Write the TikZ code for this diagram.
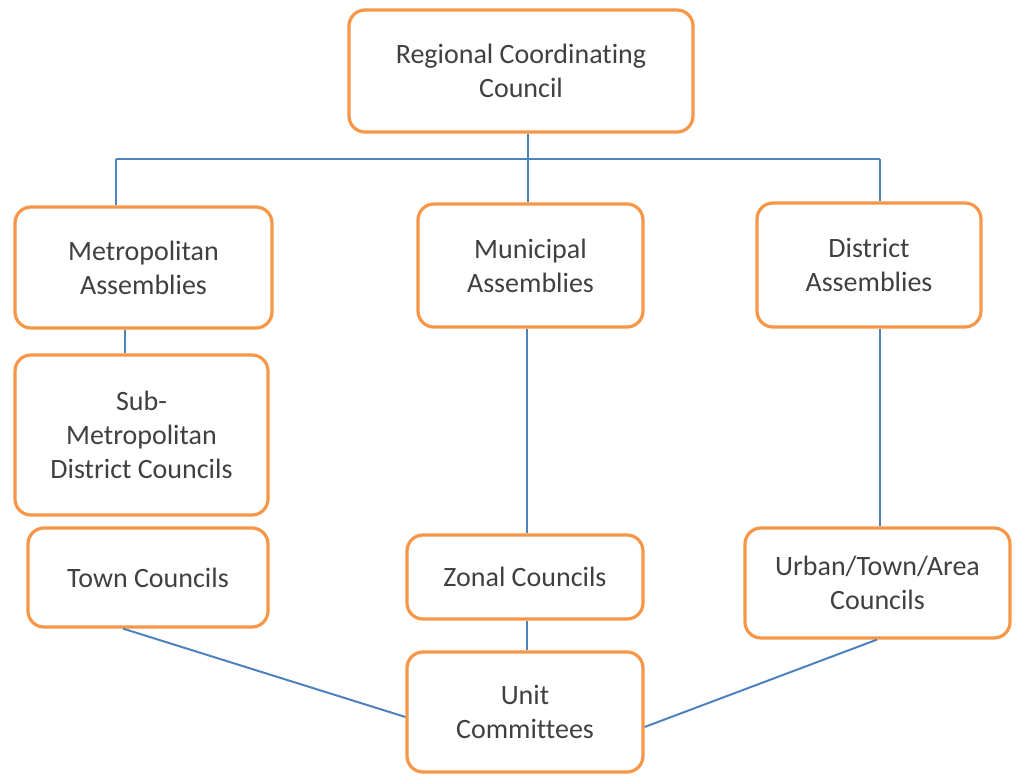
\documentclass[tikz,border=0pt]{standalone}
\usepackage{fontspec}
\setmainfont{Carlito}[Ligatures=NoCommon]
\definecolor{boxorange}{HTML}{F79646}
\definecolor{linkblue}{HTML}{4F81BD}
\definecolor{txtgray}{HTML}{404040}
\begin{document}
\begin{tikzpicture}[x=1pt,y=-1pt,
  orgbox/.style={draw=boxorange, line width=3.2pt, rounded corners=16pt, fill=white,
    align=center, text=txtgray, font=\fontsize{28}{34}\selectfont, inner sep=0pt},
  link/.style={draw=linkblue, line width=2pt}]
\useasboundingbox (0,0) rectangle (1018,778);
% nodes
\node[orgbox, minimum width=344pt, minimum height=122pt] (reg) at (521,71) {Regional Coordinating\\Council};
\node[orgbox, minimum width=257pt, minimum height=121pt] (metro) at (143.5,267.5) {Metropolitan\\Assemblies};
\node[orgbox, minimum width=225pt, minimum height=123pt] (muni) at (530.5,265.5) {Municipal\\Assemblies};
\node[orgbox, minimum width=224pt, minimum height=124pt] (dist) at (869,265) {District\\Assemblies};
\node[orgbox, minimum width=253pt, minimum height=160pt] (sub) at (141.5,435) {Sub-\\Metropolitan\\District Councils};
\node[orgbox, minimum width=240pt, minimum height=99pt] (town) at (148,577.5) {Town Councils};
\node[orgbox, minimum width=236pt, minimum height=84pt] (zonal) at (525,577) {Zonal Councils};
\node[orgbox, minimum width=265pt, minimum height=110pt] (urban) at (877.5,583) {Urban/Town/Area\\Councils};
\node[orgbox, minimum width=236pt, minimum height=120pt] (unit) at (525,712) {Unit\\Committees};
% bus
\coordinate (busL) at (116,159);
\coordinate (busM) at (528,159);
\coordinate (busR) at (880,159);
\coordinate (xmetro) at (125,0);
\coordinate (xzonal) at (527,0);
\coordinate (xtown) at (123,0);
\coordinate (xurban) at (877,0);
\coordinate (yunitL) at (0,717);
\coordinate (yunitR) at (0,727);
\draw[link] (reg.south -| busM) -- (busM);
\draw[link] (busL) -- (busR);
\draw[link] (busL) -- (metro.north -| busL);
\draw[link] (busM) -- (muni.north -| busM);
\draw[link] (busR) -- (dist.north -| busR);
\draw[link] (metro.south -| xmetro) -- (sub.north -| xmetro);
\draw[link] (muni.south -| xzonal) -- (zonal.north -| xzonal);
\draw[link] (dist.south -| busR) -- (urban.north -| busR);
\draw[link] (zonal.south -| xzonal) -- (unit.north -| xzonal);
\draw[link] (town.south -| xtown) -- (unit.west |- yunitL);
\draw[link] (urban.south -| xurban) -- (unit.east |- yunitR);
\end{tikzpicture}
\end{document}
